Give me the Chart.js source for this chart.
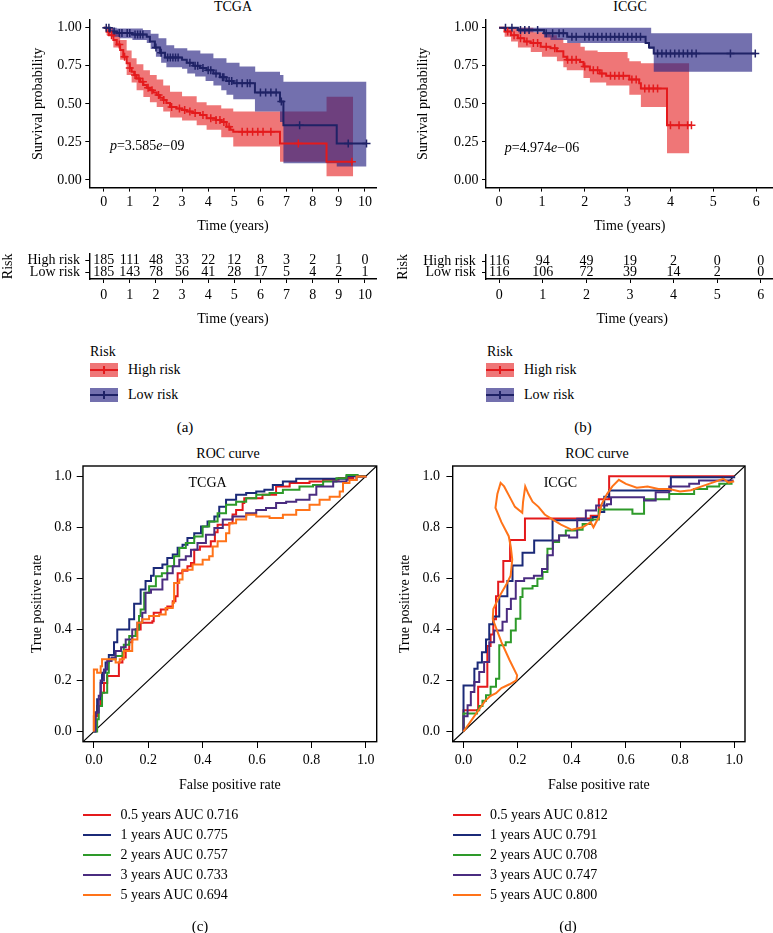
<!DOCTYPE html>
<html>
<head>
<meta charset="utf-8">
<script src="https://cdn.jsdelivr.net/npm/chart.js@4.4.0/dist/chart.umd.min.js"></script>
<style>
html, body { margin:0; padding:0; width:773px; height:933px; overflow:hidden; background:#fff; }
body { position:relative; font-family:'Liberation Serif', serif; font-size:14px; color:#000; }
canvas { position:absolute; }
.t { position:absolute; line-height:16px; white-space:nowrap; }
.c { transform:translateX(-50%); }
.lab { font-size:15px; }
.sw { position:absolute; width:28px; height:14px; }
.sw i { position:absolute; left:0; right:0; top:6px; height:2px; }
.sw b { position:absolute; left:13px; top:3px; width:2px; height:8px; }
.ln { position:absolute; width:28px; height:2px; }
</style>
</head>
<body>
<div class="t c" style="left:233px;top:-1px">TCGA</div>
<div class="t c" style="left:630px;top:-1px">ICGC</div>
<canvas id="kmA" width="386" height="240" style="left:0;top:0"></canvas>
<canvas id="tabA" width="386" height="100" style="left:0;top:240px"></canvas>
<canvas id="kmB" width="393" height="240" style="left:386px;top:0"></canvas>
<canvas id="tabB" width="393" height="100" style="left:386px;top:240px"></canvas>

<div class="t" style="left:90px;top:344px">Risk</div>
<div class="sw" style="left:90px;top:363px;background:rgba(228,26,28,0.6)"><i style="background:#e41a1c"></i><b style="background:#e41a1c"></b></div>
<div class="t" style="left:128px;top:362px">High risk</div>
<div class="sw" style="left:90px;top:388px;background:rgba(40,35,130,0.65)"><i style="background:#1f2266"></i><b style="background:#1f2266"></b></div>
<div class="t" style="left:128px;top:387px">Low risk</div>

<div class="t" style="left:487px;top:344px">Risk</div>
<div class="sw" style="left:486px;top:363px;background:rgba(228,26,28,0.6)"><i style="background:#e41a1c"></i><b style="background:#e41a1c"></b></div>
<div class="t" style="left:524px;top:362px">High risk</div>
<div class="sw" style="left:486px;top:388px;background:rgba(40,35,130,0.65)"><i style="background:#1f2266"></i><b style="background:#1f2266"></b></div>
<div class="t" style="left:524px;top:387px">Low risk</div>

<div class="t c lab" style="left:185px;top:419px">(a)</div>
<div class="t c lab" style="left:583px;top:419px">(b)</div>

<div class="t c" style="left:228px;top:446px">ROC curve</div>
<div class="t c" style="left:597px;top:446px">ROC curve</div>
<canvas id="rocC" width="386" height="370" style="left:0;top:440px"></canvas>
<canvas id="rocD" width="387" height="370" style="left:386px;top:440px"></canvas>
<div id="legC"></div>
<div id="legD"></div>
<div class="t c lab" style="left:200px;top:918px">(c)</div>
<div class="t c lab" style="left:568px;top:918px">(d)</div>

<script>
// ---- survival data ----
const tcgaTimeTicks = [0, 1, 2, 3, 4, 5, 6, 7, 8, 9, 10]
const icgcTimeTicks = [0, 1, 2, 3, 4, 5, 6]
const survTicks = [0, 0.25, 0.5, 0.75, 1]

const tcgaHigh = [[0,1],[0.11,0.974],[0.2,0.95],[0.37,0.92],[0.5,0.89],[0.63,0.853],[0.75,0.81],[0.88,0.766],[1.0,0.735],[1.07,0.71],[1.17,0.69],[1.26,0.667],[1.4,0.645],[1.52,0.624],[1.65,0.605],[1.77,0.59],[1.9,0.575],[2.03,0.558],[2.15,0.54],[2.28,0.525],[2.4,0.505],[2.54,0.48],[2.79,0.47],[3.0,0.46],[3.18,0.449],[3.4,0.44],[3.69,0.427],[3.94,0.405],[4.3,0.394],[4.5,0.38],[4.7,0.35],[4.85,0.33],[4.96,0.317],[6.75,0.24],[8.53,0.12],[9.55,0.12]]
const tcgaHighUp = [[0,1],[0.11,1],[0.37,0.97],[0.63,0.92],[0.88,0.85],[1.07,0.8],[1.26,0.76],[1.52,0.72],[1.77,0.69],[2.03,0.66],[2.28,0.62],[2.54,0.58],[3.0,0.55],[3.56,0.51],[3.94,0.49],[4.5,0.47],[4.96,0.45],[6.75,0.45],[8.53,0.547],[9.55,0.547]]
const tcgaHighLo = [[0,1],[0.11,0.95],[0.37,0.87],[0.63,0.79],[0.88,0.69],[1.07,0.64],[1.26,0.59],[1.52,0.545],[1.77,0.51],[2.03,0.48],[2.28,0.45],[2.54,0.41],[3.0,0.39],[3.56,0.36],[3.94,0.33],[4.5,0.28],[4.96,0.22],[6.75,0.12],[8.53,0.025],[9.55,0.025]]
const tcgaHighCens = [0.3,0.6,0.8,1.0,1.2,1.35,1.5,1.7,1.85,2.1,2.3,2.6,2.9,3.1,3.3,3.5,3.8,4.1,4.3,4.45,4.6,4.8,5.3,5.5,5.7,5.9,6.1,6.4,7.45,9.5]

const tcgaLow = [[0,1],[0.24,0.975],[0.5,0.965],[1.1,0.955],[1.65,0.94],[1.77,0.91],[1.96,0.87],[2.16,0.835],[2.35,0.805],[3.0,0.79],[3.18,0.77],[3.43,0.75],[3.69,0.735],[3.94,0.72],[4.2,0.7],[4.45,0.675],[4.7,0.65],[4.96,0.635],[5.79,0.575],[6.75,0.515],[6.88,0.36],[8.92,0.24],[10.06,0.24]]
const tcgaLowUp = [[0,1],[0.5,0.995],[1.5,0.985],[1.8,0.96],[2.1,0.93],[2.4,0.885],[2.7,0.865],[3.2,0.85],[3.7,0.83],[4.2,0.8],[4.7,0.77],[5.2,0.745],[5.8,0.71],[6.75,0.69],[6.88,0.645],[10.06,0.645]]
const tcgaLowLo = [[0,1],[0.3,0.94],[0.6,0.93],[1.1,0.92],[1.65,0.9],[1.8,0.86],[2.0,0.81],[2.2,0.77],[2.4,0.74],[3.0,0.73],[3.2,0.7],[3.5,0.68],[3.9,0.65],[4.2,0.62],[4.5,0.59],[4.7,0.56],[4.96,0.53],[5.79,0.45],[6.75,0.38],[6.88,0.11],[8.92,0.088],[10.06,0.088]]
const tcgaLowCens = [0.1,0.2,0.4,0.6,0.7,0.9,1.0,1.2,1.3,1.4,1.5,2.0,2.2,2.45,2.55,2.65,2.75,2.85,3.3,3.5,3.6,3.8,4.0,4.1,4.3,4.55,4.6,4.8,4.9,5.1,5.3,5.5,5.6,6.0,6.2,6.4,6.6,6.8,7.5,9.36,10.06]

const icgcHigh = [[0,1],[0.13,0.975],[0.28,0.95],[0.44,0.93],[0.59,0.91],[0.74,0.9],[0.97,0.875],[1.2,0.865],[1.35,0.845],[1.5,0.81],[1.58,0.79],[1.89,0.775],[1.97,0.745],[2.12,0.72],[2.35,0.7],[2.5,0.685],[3.04,0.66],[3.27,0.635],[3.31,0.6],[3.92,0.36],[4.49,0.36]]
const icgcHighUp = [[0,1],[0.3,1],[0.8,0.97],[1.2,0.95],[1.35,0.93],[1.5,0.9],[1.9,0.875],[2.0,0.85],[2.3,0.84],[3.0,0.8],[3.04,0.78],[3.31,0.766],[4.44,0.766]]
const icgcHighLo = [[0,1],[0.13,0.94],[0.28,0.91],[0.44,0.87],[0.74,0.84],[1.0,0.81],[1.35,0.78],[1.5,0.74],[1.58,0.72],[1.97,0.67],[2.12,0.64],[2.5,0.62],[3.04,0.56],[3.31,0.48],[3.92,0.175],[4.44,0.175]]
const icgcHighCens = [0.2,0.35,0.5,0.65,0.8,0.9,1.1,1.3,1.6,1.7,1.8,2.0,2.2,2.3,2.4,2.6,2.7,2.8,2.9,3.1,3.2,3.4,3.5,3.6,3.7,4.0,4.2,4.4,4.49]

const icgcLow = [[0,1],[0.44,0.985],[1.05,0.963],[1.59,0.94],[3.42,0.9],[3.5,0.87],[3.61,0.83],[5.98,0.83]]
const icgcLowUp = [[0,1],[3.55,0.963],[5.91,0.963]]
const icgcLowLo = [[0,1],[0.44,0.97],[1.05,0.935],[1.2,0.92],[1.59,0.9],[3.5,0.86],[3.61,0.71],[5.91,0.71]]
const icgcLowCens = [0.15,0.3,0.5,0.6,0.7,0.9,1.1,1.25,1.4,1.5,1.7,1.8,2.0,2.1,2.2,2.3,2.4,2.5,2.6,2.7,2.8,2.9,3.0,3.1,3.2,3.3,3.7,3.8,3.9,4.0,4.1,4.2,4.3,4.4,4.5,4.6,5.4,5.98]

const tcgaPval = '3.585e\u221209'
const icgcPval = '4.974e\u221206'

// numbers at risk
const riskRows = ['High risk', 'Low risk']
const tcgaRiskHigh = [185, 111, 48, 33, 22, 12, 8, 3, 2, 1, 0]
const tcgaRiskLow = [185, 143, 78, 56, 41, 28, 17, 5, 4, 2, 1]
const icgcRiskHigh = [116, 94, 49, 19, 2, 0, 0]
const icgcRiskLow = [116, 106, 72, 39, 14, 2, 0]

// ---- ROC data ----
const rocTicks = [0, 0.2, 0.4, 0.6, 0.8, 1.0]
const rocYears = ['0.5 years', '1 years', '2 years', '3 years', '5 years']
const tcgaAuc = [0.716, 0.775, 0.757, 0.733, 0.694]
const icgcAuc = [0.812, 0.791, 0.708, 0.747, 0.800]

const tcgaRoc05 = [[0,0],[0,0.06],[0.012,0.1],[0.025,0.152],[0.037,0.19],[0.049,0.217],[0.092,0.27],[0.105,0.29],[0.117,0.32],[0.13,0.35],[0.141,0.374],[0.154,0.4],[0.172,0.426],[0.215,0.432],[0.22,0.465],[0.246,0.478],[0.27,0.49],[0.29,0.51],[0.3,0.53],[0.308,0.62],[0.325,0.63],[0.344,0.647],[0.357,0.66],[0.369,0.712],[0.39,0.725],[0.43,0.745],[0.445,0.78],[0.455,0.81],[0.498,0.816],[0.51,0.85],[0.523,0.868],[0.547,0.895],[0.553,0.914],[0.62,0.927],[0.67,0.96],[0.72,0.973],[0.793,0.979],[0.843,0.986],[0.9,0.993],[0.953,1.0],[1,1]]
const tcgaRoc1 = [[0,0],[0.006,0.074],[0.012,0.126],[0.025,0.19],[0.03,0.23],[0.043,0.27],[0.055,0.3],[0.074,0.35],[0.086,0.4],[0.13,0.44],[0.148,0.5],[0.172,0.556],[0.19,0.59],[0.21,0.61],[0.22,0.64],[0.252,0.654],[0.27,0.68],[0.29,0.693],[0.308,0.72],[0.326,0.732],[0.344,0.758],[0.369,0.777],[0.394,0.803],[0.418,0.823],[0.443,0.842],[0.461,0.88],[0.486,0.908],[0.523,0.927],[0.56,0.934],[0.597,0.94],[0.627,0.947],[0.658,0.966],[0.695,0.979],[0.744,0.99],[0.85,0.99],[0.929,1.0],[1,1]]
const tcgaRoc2 = [[0,0],[0.012,0.048],[0.018,0.1],[0.03,0.152],[0.049,0.23],[0.055,0.283],[0.08,0.296],[0.105,0.31],[0.11,0.34],[0.13,0.374],[0.154,0.4],[0.166,0.452],[0.172,0.478],[0.185,0.543],[0.203,0.569],[0.228,0.608],[0.25,0.62],[0.27,0.647],[0.295,0.686],[0.314,0.719],[0.338,0.738],[0.369,0.764],[0.4,0.803],[0.424,0.823],[0.455,0.855],[0.486,0.888],[0.523,0.9],[0.56,0.914],[0.597,0.927],[0.646,0.934],[0.695,0.947],[0.756,0.96],[0.806,0.966],[0.843,0.979],[0.892,0.992],[0.929,1.005],[0.97,1.0],[1,1]]
const tcgaRoc3 = [[0,0],[0.006,0.074],[0.018,0.14],[0.025,0.2],[0.037,0.243],[0.049,0.276],[0.065,0.29],[0.08,0.315],[0.1,0.33],[0.117,0.36],[0.141,0.4],[0.16,0.426],[0.178,0.465],[0.19,0.543],[0.21,0.556],[0.252,0.595],[0.27,0.62],[0.29,0.647],[0.314,0.673],[0.338,0.686],[0.357,0.712],[0.381,0.738],[0.412,0.771],[0.443,0.797],[0.474,0.83],[0.51,0.842],[0.56,0.855],[0.597,0.868],[0.633,0.875],[0.67,0.895],[0.707,0.9],[0.744,0.908],[0.793,0.927],[0.818,0.96],[0.88,0.979],[0.929,0.986],[0.966,0.999],[1,1]]
const tcgaRoc5 = [[0,0],[0,0.243],[0.012,0.23],[0.025,0.256],[0.03,0.283],[0.068,0.283],[0.08,0.27],[0.095,0.283],[0.11,0.315],[0.141,0.36],[0.16,0.426],[0.178,0.44],[0.203,0.452],[0.24,0.458],[0.264,0.484],[0.29,0.504],[0.295,0.582],[0.314,0.595],[0.326,0.634],[0.363,0.654],[0.4,0.673],[0.424,0.686],[0.437,0.725],[0.455,0.745],[0.486,0.777],[0.498,0.816],[0.523,0.83],[0.56,0.849],[0.597,0.842],[0.646,0.836],[0.695,0.849],[0.744,0.868],[0.793,0.888],[0.83,0.908],[0.867,0.92],[0.904,0.94],[0.916,0.973],[0.94,0.985],[0.966,0.999],[1,1]]

const icgcRoc05 = [[0,0],[0,0.083],[0.054,0.175],[0.088,0.335],[0.1,0.38],[0.11,0.44],[0.12,0.53],[0.128,0.587],[0.147,0.668],[0.172,0.75],[0.227,0.834],[0.47,0.845],[0.5,0.91],[0.538,1.0],[1,1]]
const icgcRoc1 = [[0,0],[0,0.18],[0.04,0.246],[0.052,0.27],[0.068,0.31],[0.083,0.36],[0.095,0.42],[0.11,0.45],[0.132,0.53],[0.162,0.59],[0.181,0.65],[0.218,0.7],[0.261,0.748],[0.329,0.827],[0.477,0.84],[0.5,0.86],[0.52,0.92],[0.538,0.944],[0.766,0.996],[1,1]]
const icgcRoc2 = [[0,0],[0,0.07],[0.05,0.083],[0.058,0.1],[0.07,0.12],[0.083,0.142],[0.1,0.175],[0.12,0.207],[0.132,0.338],[0.156,0.35],[0.175,0.396],[0.193,0.442],[0.21,0.527],[0.218,0.56],[0.255,0.57],[0.273,0.598],[0.292,0.625],[0.31,0.716],[0.33,0.742],[0.353,0.768],[0.378,0.787],[0.415,0.79],[0.44,0.813],[0.47,0.83],[0.5,0.87],[0.624,0.853],[0.667,0.91],[0.76,0.93],[0.852,0.95],[0.9,0.96],[0.945,0.97],[0.994,0.97]]
const icgcRoc3 = [[0,0],[0,0.06],[0.015,0.103],[0.027,0.155],[0.04,0.194],[0.058,0.233],[0.076,0.272],[0.095,0.35],[0.113,0.396],[0.144,0.43],[0.16,0.48],[0.175,0.52],[0.193,0.59],[0.224,0.6],[0.26,0.61],[0.29,0.637],[0.31,0.69],[0.33,0.748],[0.353,0.768],[0.39,0.76],[0.42,0.833],[0.452,0.866],[0.49,0.885],[0.53,0.89],[0.545,0.918],[0.667,0.905],[0.71,0.937],[0.76,0.96],[0.834,0.97],[0.87,0.983],[0.994,0.976]]
const icgcRoc5 = [[0,0],[0.02,0.03],[0.04,0.06],[0.06,0.09],[0.08,0.12],[0.1,0.14],[0.12,0.15],[0.14,0.17],[0.17,0.185],[0.195,0.2],[0.198,0.22],[0.17,0.28],[0.14,0.35],[0.108,0.44],[0.11,0.48],[0.133,0.53],[0.16,0.58],[0.174,0.61],[0.18,0.674],[0.175,0.72],[0.167,0.765],[0.14,0.82],[0.118,0.876],[0.125,0.93],[0.137,0.974],[0.15,0.96],[0.17,0.92],[0.19,0.88],[0.217,0.857],[0.22,0.9],[0.228,0.96],[0.24,0.93],[0.255,0.9],[0.277,0.88],[0.3,0.85],[0.33,0.83],[0.36,0.81],[0.4,0.79],[0.44,0.8],[0.47,0.82],[0.48,0.8],[0.5,0.84],[0.51,0.89],[0.53,0.93],[0.55,0.96],[0.574,0.986],[0.6,0.97],[0.64,0.955],[0.68,0.96],[0.72,0.95],[0.76,0.95],[0.8,0.94],[0.84,0.945],[0.88,0.96],[0.92,0.975],[0.96,0.99],[0.98,0.975],[1.0,0.98]]

const rocColors = ['#e41a1c', '#1b2a78', '#2e9a2a', '#4a2c80', '#ff7319']
const redLine = '#e41a1c', navyLine = '#1f2266'
const redBand = 'rgba(228,26,28,0.6)', navyBand = 'rgba(40,35,130,0.65)'
const FONT = "'Liberation Serif', serif"
const F14 = {family: FONT, size: 14, weight: 'normal', style: 'normal'}

Chart.defaults.font.family = FONT
Chart.defaults.font.size = 14
Chart.defaults.color = '#000'

const pts = arr => arr.map(([x, y]) => ({x, y}))
function stepAt(curve, t) {
    var v = curve[0][1]
    for (const [x, y] of curve) if (x <= t) v = y
    return v
}

function axis(o) {
    const a = {
        type: 'linear',
        reverse: !!o.reverse,
        min: o.min, max: o.max,
        afterBuildTicks: s => { s.ticks = o.ticks.map(v => ({value: v})) },
        afterFit: s => { if (o.w != null) s.width = o.w; if (o.h != null) s.height = o.h },
        grid: {drawOnChartArea: false, color: '#000', tickLength: o.tl, tickWidth: 1},
        border: {display: o.border !== false, color: '#000', width: 1.4},
        ticks: {color: '#000', padding: o.tp, autoSkip: false, maxRotation: 0, font: F14},
        title: {display: true, text: o.title, color: '#000', padding: o.titlePad, font: F14}
    }
    if (o.fmt) a.ticks.callback = o.fmt
    return a
}

// text pieces drawn through the scales
function pvalPlugin(txt, px, py) {
    const parts = [['p', 1], ['=' + txt.split('e')[0], 0], ['e', 1], [txt.split('e')[1], 0]]
    return {id: 'pval', afterDatasetsDraw(c) {
        const ctx = c.ctx
        var x = c.scales.x.getPixelForValue(px)
        const y = c.scales.y.getPixelForValue(py)
        ctx.save()
        ctx.fillStyle = '#000'
        ctx.textBaseline = 'middle'
        parts.forEach(([t, it]) => {
            ctx.font = (it ? 'italic ' : '') + '14px ' + FONT
            ctx.fillText(t, x, y)
            x += ctx.measureText(t).width
        })
        ctx.restore()
    }}
}
function labelPlugin(txt, px, py) {
    return {id: 'lbl', afterDatasetsDraw(c) {
        const ctx = c.ctx
        ctx.save()
        ctx.font = '14px ' + FONT
        ctx.fillStyle = '#000'
        ctx.textAlign = 'center'
        ctx.textBaseline = 'middle'
        ctx.fillText(txt, c.scales.x.getPixelForValue(px), c.scales.y.getPixelForValue(py))
        ctx.restore()
    }}
}
const framePlugin = {id: 'frame', afterDraw(c) {
    const a = c.chartArea, ctx = c.ctx
    ctx.save()
    ctx.strokeStyle = '#000'
    ctx.lineWidth = 1.4
    ctx.strokeRect(a.left, a.top, a.right - a.left, a.bottom - a.top)
    ctx.restore()
}}
const riskPlugin = {id: 'risk', afterDatasetsDraw(c) {
    const ctx = c.ctx
    ctx.save()
    ctx.font = '14px ' + FONT
    ctx.fillStyle = '#000'
    ctx.textAlign = 'center'
    ctx.textBaseline = 'middle'
    c.data.datasets.forEach((d, i) => {
        c.getDatasetMeta(i).data.forEach((p, j) => ctx.fillText(String(d.data[j].n), p.x, p.y))
    })
    ctx.restore()
}}

function band(up, lo, color, order) {
    return [
        {data: pts(up), stepped: 'before', borderWidth: 0, borderColor: 'rgba(0,0,0,0)', pointRadius: 0, fill: '+1', backgroundColor: color, order: order},
        {data: pts(lo), stepped: 'before', borderWidth: 0, borderColor: 'rgba(0,0,0,0)', pointRadius: 0, fill: false, order: order}
    ]
}
function curve(c, color, order) {
    return {data: pts(c), stepped: 'before', borderColor: color, borderWidth: 2, pointRadius: 0, fill: false, order: order}
}
function cens(c, times, color) {
    return {data: times.map(t => ({x: t, y: stepAt(c, t)})), showLine: false, pointStyle: 'cross', pointRadius: 4,
        pointBorderWidth: 1.5, borderColor: color, backgroundColor: color, fill: false, order: 0}
}

function kmChart(id, g, o) {
    const ds = [].concat(
        band(g.hiUp, g.hiLo, redBand, 10),
        band(g.loUp, g.loLo, navyBand, 9),
        [curve(g.hi, redLine, 5), curve(g.lo, navyLine, 4), cens(g.hi, g.hiC, redLine), cens(g.lo, g.loC, navyLine)]
    )
    return new Chart(document.getElementById(id), {
        type: 'line',
        data: {datasets: ds},
        options: {
            responsive: false, animation: false, events: [],
            layout: {padding: o.pad},
            plugins: {legend: {display: false}, tooltip: {enabled: false}},
            scales: {
                x: axis({min: o.xmin, max: o.xmax, ticks: o.xticks, h: 52.4, tl: 4, tp: 2,
                    title: 'Time (years)', titlePad: {top: 0, bottom: 4.9}}),
                y: axis({min: -0.05, max: 1.05, ticks: survTicks, w: o.yw, tl: 4, tp: 3.6,
                    fmt: v => v.toFixed(2), title: 'Survival probability', titlePad: {top: o.ytp, bottom: 0}})
            }
        },
        plugins: [pvalPlugin(o.pval, o.px, o.py)]
    })
}

function riskChart(id, times, high, low, o) {
    const ds = [high, low].map((r, k) => ({
        data: r.map((n, i) => ({x: times[i], y: k, n: n})),
        showLine: false, pointRadius: 0
    }))
    return new Chart(document.getElementById(id), {
        type: 'scatter',
        data: {datasets: ds},
        options: {
            responsive: false, animation: false, events: [],
            layout: {padding: o.pad},
            plugins: {legend: {display: false}, tooltip: {enabled: false}},
            scales: {
                x: axis({min: o.xmin, max: o.xmax, ticks: times, h: 61, tl: 4, tp: 4,
                    title: 'Time (years)', titlePad: {top: 0, bottom: 12.3}}),
                y: axis({min: -0.55, max: 1.55, reverse: true, ticks: [0, 1], fmt: v => riskRows[v],
                    w: o.yw, tl: 4, tp: o.ytp2, title: 'Risk', titlePad: {top: o.ytp, bottom: 0}})
            }
        },
        plugins: [riskPlugin]
    })
}

function rocChart(id, series, o) {
    const ds = series.map((s, i) => ({
        data: pts(s), borderColor: rocColors[i], borderWidth: 2, pointRadius: 0, fill: false,
        stepped: o.smooth && o.smooth[i] ? false : 'before', order: 4 - i
    }))
    ds.push({data: [{x: -0.04, y: -0.04}, {x: 1.04, y: 1.04}], borderColor: '#000', borderWidth: 1.2,
        pointRadius: 0, fill: false, order: 9})
    return new Chart(document.getElementById(id), {
        type: 'line',
        data: {datasets: ds},
        options: {
            responsive: false, animation: false, events: [],
            layout: {padding: o.pad},
            plugins: {legend: {display: false}, tooltip: {enabled: false}},
            scales: {
                x: axis({min: -0.04, max: 1.04, ticks: rocTicks, h: 68.3, tl: 6.3, tp: 4, border: false,
                    fmt: v => v.toFixed(1), title: 'False positive rate', titlePad: {top: 0, bottom: 16.6}}),
                y: axis({min: -0.04, max: 1.04, ticks: rocTicks, w: o.yw, tl: 6.3, tp: o.ytp2, border: false,
                    fmt: v => v.toFixed(1), title: 'True positive rate', titlePad: {top: 9.3, bottom: 0}})
            }
        },
        plugins: [framePlugin, labelPlugin(o.label, o.lx, 0.974)]
    })
}

kmChart('kmA', {hi: tcgaHigh, hiUp: tcgaHighUp, hiLo: tcgaHighLo, hiC: tcgaHighCens,
    lo: tcgaLow, loUp: tcgaLowUp, loLo: tcgaLowLo, loC: tcgaLowCens},
    {pad: {left: 22, top: 20.1, right: 9.3, bottom: 0}, xmin: -0.55, xmax: 10.45, xticks: tcgaTimeTicks,
     yw: 67.3, ytp: 7.9, pval: tcgaPval, px: 0.24, py: 0.22})
kmChart('kmB', {hi: icgcHigh, hiUp: icgcHighUp, hiLo: icgcHighLo, hiC: icgcHighCens,
    lo: icgcLow, loUp: icgcLowUp, loLo: icgcLowLo, loC: icgcLowCens},
    {pad: {left: 22, top: 20.1, right: 0.6, bottom: 0}, xmin: -0.305, xmax: 6.405, xticks: icgcTimeTicks,
     yw: 78, ytp: 6.9, pval: icgcPval, px: 0.13, py: 0.21})

riskChart('tabA', tcgaTimeTicks, tcgaRiskHigh, tcgaRiskLow,
    {pad: {left: 0, top: 8, right: 9.3, bottom: 0}, xmin: -0.55, xmax: 10.45, yw: 89.3, ytp: 0, ytp2: 5.3})
riskChart('tabB', icgcTimeTicks, icgcRiskHigh, icgcRiskLow,
    {pad: {left: 0, top: 8, right: 0.6, bottom: 0}, xmin: -0.305, xmax: 6.405, yw: 100, ytp: 8.6, ytp2: 6.3})

rocChart('rocC', [tcgaRoc05, tcgaRoc1, tcgaRoc2, tcgaRoc3, tcgaRoc5],
    {pad: {left: 20, top: 26, right: 9.3, bottom: 0}, yw: 63, ytp2: 5, label: 'TCGA', lx: 0.418})
rocChart('rocD', [icgcRoc05, icgcRoc1, icgcRoc2, icgcRoc3, icgcRoc5],
    {pad: {left: 2, top: 26, right: 28, bottom: 0}, yw: 64.7, ytp2: 6.4, label: 'ICGC', lx: 0.358,
     smooth: [false, false, false, false, true]})

function rocLegend(id, auc, left) {
    var html = ''
    auc.forEach((a, i) => {
        const cy = 815 + i * 20
        html += '<div class="ln" style="left:' + left + 'px;top:' + (cy - 1) + 'px;background:' + rocColors[i] + '"></div>'
        html += '<div class="t" style="left:' + (left + 37.5) + 'px;top:' + (cy - 8) + 'px">' + rocYears[i] + ' AUC ' + a.toFixed(3) + '</div>'
    })
    document.getElementById(id).innerHTML = html
}
rocLegend('legC', tcgaAuc, 83)
rocLegend('legD', icgcAuc, 452.5)
</script>
</body>
</html>
